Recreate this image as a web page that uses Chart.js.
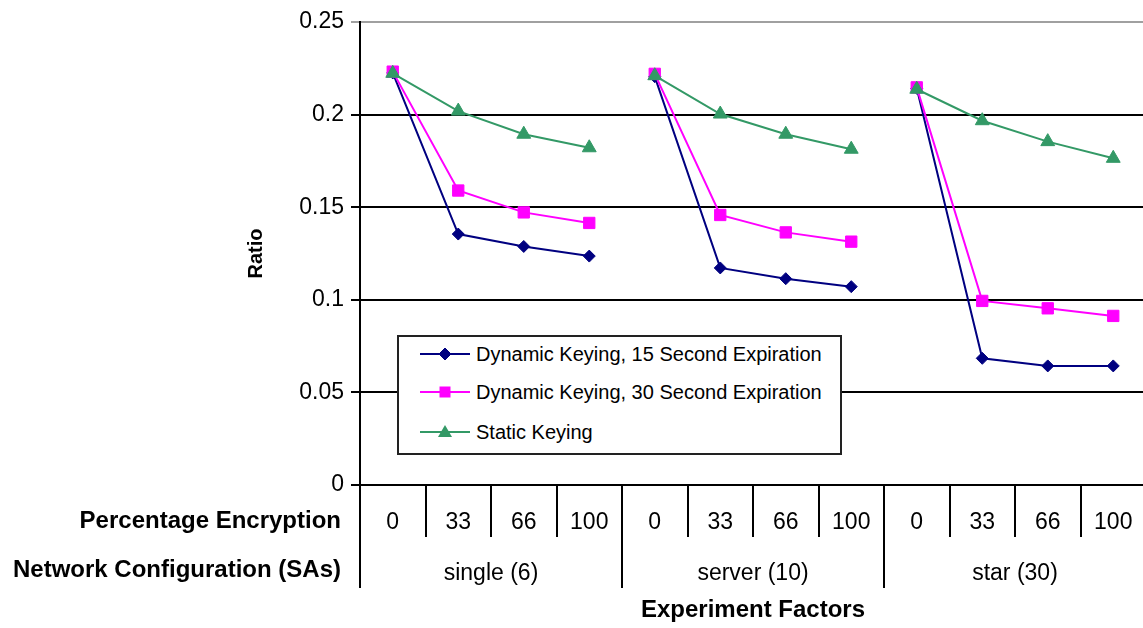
<!DOCTYPE html>
<html>
<head>
<meta charset="utf-8">
<script src="https://cdn.jsdelivr.net/npm/chart.js@4.4.1/dist/chart.umd.min.js"></script>
<style>
body{margin:0;background:#fff;overflow:hidden;}
#wrap{position:relative;width:1143px;height:628px;overflow:hidden;}
#legend{position:absolute;left:397px;top:335px;width:441px;height:116px;border:2px solid #222;background:#fff;
  font:20px "Liberation Sans",Arial,sans-serif;color:#000;}
.row{position:absolute;left:21px;height:30px;display:flex;align-items:center;white-space:nowrap;}
.row svg{margin-right:6px;}
</style>
</head>
<body>
<div id="wrap">
<canvas id="myChart" width="1155" height="628"></canvas>
<div id="legend"></div>
</div>
<script>
// categories
const pct = ['0','33','66','100','0','33','66','100','0','33','66','100'];
const groups = ['single (6)','server (10)','star (30)'];
const yTicks = [0, 0.05, 0.1, 0.15, 0.2, 0.25];

// series (ratio)
const dyn15 = [0.2225, 0.1355, 0.1288, 0.1236,  0.2205, 0.1172, 0.1114, 0.1071,  0.2142, 0.0684, 0.0643, 0.0643];
const dyn30 = [0.2232, 0.1590, 0.1472, 0.1415,  0.2220, 0.1458, 0.1364, 0.1314,  0.2147, 0.0994, 0.0954, 0.0913];
const stat  = [0.2223, 0.2019, 0.1894, 0.1821,  0.2210, 0.2003, 0.1894, 0.1813,  0.2137, 0.1967, 0.1854, 0.1764];

const names = ['Dynamic Keying, 15 Second Expiration','Dynamic Keying, 30 Second Expiration','Static Keying'];
const colors = ['#000080','#ff00ff','#339966'];

const FONT = '"Liberation Sans", Arial, sans-serif';

// no line between the last point of a group and the first of the next one
function gapColor(col){
  return ctx => (ctx.p0DataIndex % 4 === 3) ? 'rgba(0,0,0,0)' : col;
}

function makeSet(label, data, col, style, radius, order){
  return {
    label: label,
    data: data,
    borderColor: col,
    backgroundColor: col,
    borderWidth: 2,
    pointStyle: style,
    pointRadius: radius,
    pointBorderWidth: 1,
    pointBackgroundColor: col,
    pointBorderColor: col,
    tension: 0,
    order: order,
    segment: { borderColor: gapColor(col) }
  };
}

// row headers of the category table under the plot
const rowHeaders = {
  id: 'rowHeaders',
  afterDraw(chart){
    const c = chart.ctx;
    const x = chart.scales.x, x2 = chart.scales.x2;
    c.save();
    c.fillStyle = '#000';
    c.font = 'bold 24px ' + FONT;
    c.textAlign = 'right';
    c.textBaseline = 'middle';
    c.fillText('Percentage Encryption', 341, x.top + 36);
    c.fillText('Network Configuration (SAs)', 341, x2.top + 33);
    c.restore();
  }
};

const ctx = document.getElementById('myChart').getContext('2d');
const myChart = new Chart(ctx, {
  type: 'line',
  data: {
    labels: pct,
    datasets: [
      makeSet(names[0], dyn15, colors[0], 'rectRot', 6, 3),
      makeSet(names[1], dyn30, colors[1], 'rect', 8, 2),
      makeSet(names[2], stat, colors[2], 'triangle', 8, 1)
    ]
  },
  options: {
    responsive: false,
    animation: false,
    layout: { padding: { top: 22, right: 0, left: 0, bottom: 0 } },
    plugins: {
      legend: { display: false },
      tooltip: { enabled: false }
    },
    scales: {
      x: {
        type: 'category',
        position: 'bottom',
        weight: 0,
        offset: true,
        border: { display: true, color: '#000', width: 2 },
        grid: { offset: true, drawOnChartArea: false, drawTicks: true, tickLength: 52, color: '#000', lineWidth: 2 },
        ticks: { color: '#000', font: { family: FONT, size: 23 }, padding: -28, maxRotation: 0, autoSkip: false },
        afterFit: s => { s.height = 52; }
      },
      x2: {
        type: 'category',
        labels: groups,
        position: 'bottom',
        weight: 1,
        offset: true,
        border: { display: false },
        grid: { offset: true, drawOnChartArea: false, drawTicks: true, tickLength: 51, color: '#000', lineWidth: 2 },
        ticks: { color: '#000', font: { family: FONT, size: 23 }, padding: -28, maxRotation: 0, autoSkip: false },
        title: { display: true, text: 'Experiment Factors', color: '#000',
                 font: { family: FONT, size: 24, weight: 'bold' }, padding: { top: 0, bottom: 3 } },
        afterFit: s => { s.height = 91; }
      },
      y: {
        min: 0,
        max: 0.25,
        afterBuildTicks: s => { s.ticks = yTicks.map(v => ({ value: v })); },
        border: { display: true, color: '#000', width: 2 },
        grid: {
          color: c => (c.tick && c.tick.value === 0.25) ? '#a0a0a0' : '#000',
          lineWidth: 2,
          tickLength: 9
        },
        ticks: { color: '#000', font: { family: FONT, size: 23 }, padding: 7,
                 callback: v => String(v) },
        title: { display: true, text: 'Ratio', color: '#000',
                 font: { family: FONT, size: 20, weight: 'bold' }, padding: { top: 244, bottom: 0 } },
        afterFit: s => { s.width = 360; }
      }
    }
  },
  plugins: [rowHeaders]
});

// legend box inside the plot, drawn as html
const markers = [
  '<polygon points="25,4 31,10 25,16 19,10" fill="#000080" stroke="#000080" stroke-width="1"/>',
  '<rect x="19.5" y="4.5" width="11" height="11" fill="#ff00ff"/>',
  '<polygon points="25,3 32,15 18,15" fill="#339966"/>'
];
const legend = document.getElementById('legend');
const rowTops = [2, 40, 80];
names.forEach((n, i) => {
  const row = document.createElement('div');
  row.className = 'row';
  row.style.top = rowTops[i] + 'px';
  row.innerHTML = '<svg width="50" height="20"><line x1="0" y1="10" x2="50" y2="10" stroke="' + colors[i] +
    '" stroke-width="2"/>' + markers[i] + '</svg><span>' + n + '</span>';
  legend.appendChild(row);
});
</script>
</body>
</html>
